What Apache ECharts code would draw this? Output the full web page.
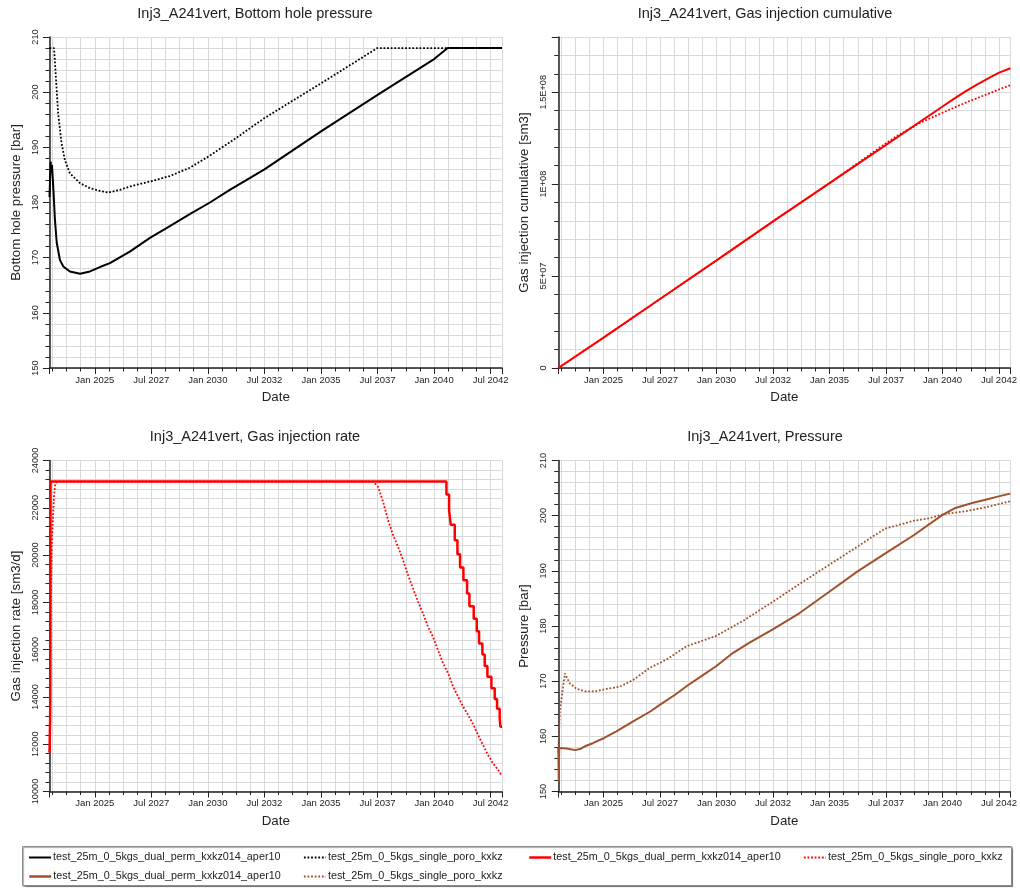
<!DOCTYPE html>
<html>
<head>
<meta charset="utf-8">
<title>Inj3_A241vert</title>
<script src="https://cdn.jsdelivr.net/npm/echarts@6/dist/echarts.min.js"></script>
<style>
    html, body { margin: 0; padding: 0; background: #fff; }
    #chart { width: 1020px; height: 888px; }
</style>
</head>
<body>
<div id="chart"></div>
<script>
// case names
var nameDual = 'test_25m_0_5kgs_dual_perm_kxkz014_aper10';
var nameSingle = 'test_25m_0_5kgs_single_poro_kxkz';

// x ticks (decimal years)
var xTickYears = [2025, 2027.5, 2030, 2032.5, 2035, 2037.5, 2040, 2042.5];
var xTickLabels = ['Jan 2025', 'Jul 2027', 'Jan 2030', 'Jul 2032', 'Jan 2035', 'Jul 2037', 'Jan 2040', 'Jul 2042'];

// Bottom hole pressure [bar]
var bhpDual = [[2023.0, 181.0], [2023.05, 187.4], [2023.08, 185.4], [2023.11, 186.8], [2023.17, 182.5],
    [2023.24, 176.9], [2023.32, 172.7], [2023.46, 169.6], [2023.61, 168.4], [2023.9, 167.5],
    [2024.35, 167.1], [2024.79, 167.5], [2025.23, 168.3], [2025.67, 169.0], [2026.55, 171.1],
    [2027.44, 173.6], [2028.32, 175.7], [2029.2, 177.9], [2030.09, 180.0], [2030.97, 182.3],
    [2032.5, 186.0], [2035.0, 192.9], [2037.5, 199.5], [2040.0, 206.0], [2040.6, 208.0], [2043.0, 208.0]];
var bhpSingle = [[2023.0, 208.0], [2023.2, 208.0], [2023.3, 201.6], [2023.38, 196.2], [2023.53, 190.8],
    [2023.68, 187.7], [2023.9, 185.3], [2024.35, 183.5], [2024.79, 182.6], [2025.23, 182.1],
    [2025.6, 181.8], [2026.11, 182.3], [2026.55, 182.9], [2027.44, 183.8], [2028.32, 184.8],
    [2029.2, 186.3], [2030.09, 188.5], [2030.97, 190.9], [2032.5, 195.3], [2035.0, 201.6],
    [2037.49, 208.0], [2043.0, 208.0]];

// Gas injection cumulative [sm3]
var cumDual = [[2023.0, 0], [2025, 1.65e7], [2027.5, 3.75e7], [2030, 5.85e7], [2032.5, 7.97e7],
    [2035, 1.005e8], [2037.5, 1.213e8], [2040, 1.422e8], [2040.55, 1.468e8], [2041, 1.503e8],
    [2041.5, 1.54e8], [2042, 1.574e8], [2042.5, 1.606e8], [2043, 1.63e8]];
var cumSingle = [[2023.0, 0], [2025, 1.65e7], [2027.5, 3.75e7], [2030, 5.85e7], [2032.5, 7.97e7],
    [2035, 1.005e8], [2037.3, 1.206e8], [2038, 1.263e8], [2039, 1.333e8], [2040, 1.388e8],
    [2041, 1.442e8], [2042, 1.49e8], [2042.5, 1.515e8], [2043, 1.538e8]];

// Gas injection rate [sm3/d]
var rateDual = [[2023.0, 11650], [2023.03, 13170], [2023.045, 23110], [2040.544, 22565], [2040.661, 21889],
    [2040.735, 21283], [2040.912, 20623], [2041.03, 20032], [2041.147, 19470], [2041.294, 18934],
    [2041.456, 18374], [2041.559, 17837], [2041.75, 17302], [2041.883, 16782], [2041.986, 16263],
    [2042.133, 15798], [2042.236, 15304], [2042.354, 14856], [2042.531, 14363], [2042.678, 13911],
    [2042.781, 13502], [2042.898, 13095], [2042.928, 12742], [2043.0, 12742]];
var rateSingle = [[2023.03, 13170], [2023.06, 18000], [2023.1, 20500], [2023.2, 22500], [2023.25, 23000],
    [2023.33, 23110], [2037.306, 23110], [2037.527, 22875], [2037.747, 22242], [2037.968, 21467],
    [2038.19, 20834], [2038.41, 20342], [2038.63, 19779], [2038.85, 19146], [2039.07, 18584],
    [2039.29, 18021], [2039.51, 17529], [2039.73, 16966], [2039.95, 16544], [2040.17, 15980],
    [2040.4, 15418], [2040.62, 14996], [2040.84, 14433], [2041.06, 14011], [2041.28, 13589],
    [2041.5, 13236], [2041.72, 12856], [2041.94, 12392], [2042.16, 11969], [2042.38, 11547],
    [2042.6, 11196], [2042.83, 10914], [2042.97, 10703]];

// Pressure [bar]
var presDual = [[2023.0, 157.9], [2023.02, 151.8], [2023.04, 157.9], [2023.37, 157.8], [2023.74, 157.5],
    [2023.96, 157.7], [2024.18, 158.2], [2024.55, 158.8], [2025.03, 159.7], [2025.57, 160.9],
    [2026.31, 162.7], [2027.07, 164.5], [2027.49, 165.7], [2028.15, 167.5], [2028.75, 169.3],
    [2029.4, 171.1], [2029.98, 172.7], [2030.72, 175.1], [2031.46, 177.0], [2032.49, 179.4],
    [2033.66, 182.3], [2034.99, 186.2], [2036.24, 189.9], [2037.49, 193.2], [2038.74, 196.5],
    [2039.98, 200.1], [2040.57, 201.4], [2041.31, 202.3], [2041.9, 202.9], [2042.48, 203.5], [2043.0, 204.0]];
var presSingle = [[2023.0, 157.0], [2023.07, 164.8], [2023.15, 167.0], [2023.29, 171.4], [2023.51, 169.6],
    [2023.81, 168.6], [2024.25, 168.1], [2024.69, 168.2], [2025.13, 168.6], [2025.72, 169.0],
    [2026.31, 170.2], [2027.04, 172.4], [2027.78, 173.9], [2028.66, 176.3], [2029.98, 178.2],
    [2031.24, 181.1], [2032.49, 184.4], [2033.74, 187.8], [2034.99, 191.1], [2036.24, 194.4],
    [2036.9, 196.2], [2037.49, 197.7], [2038.07, 198.3], [2038.74, 199.1], [2039.4, 199.5],
    [2039.98, 200.2], [2041.01, 200.8], [2041.9, 201.5], [2042.48, 202.1], [2043.0, 202.6]];

var font = "'Liberation Sans', Arial, sans-serif";
var ink = '#222';
var gridColor = '#d9d9d9';
var dotted = [1.8, 1.8];

var myChart = echarts.init(document.getElementById('chart'), null, { renderer: 'canvas' });

var grids = [
    { left: 49.5, top: 37, width: 452.5, height: 331 },
    { left: 558.3, top: 37, width: 453.4, height: 331 },
    { left: 49.5, top: 460.5, width: 452.5, height: 331 },
    { left: 558.3, top: 460.5, width: 453.4, height: 331 }
];

function xAxisOpt(i) {
    return {
        type: 'value', gridIndex: i, min: 2023, max: 2043,
        // ticks on multiples of 2.5 years, not counted from min
        minInterval: 2.5, maxInterval: 2.5,
        name: 'Date', nameLocation: 'middle', nameGap: 23,
        nameTextStyle: { fontSize: 13.3, color: ink, fontFamily: font },
        axisLine: { show: true, onZero: false, lineStyle: { color: ink, width: 1.5 } },
        axisTick: { show: true, length: 6, lineStyle: { color: ink } },
        minorTick: { show: true, splitNumber: 4, length: 3.5, lineStyle: { color: ink } },
        axisLabel: {
            fontSize: 9.5, color: ink, margin: 7, fontFamily: font,
            formatter: function (v) {
                for (var k = 0; k < xTickYears.length; k++) {
                    if (Math.abs(v - xTickYears[k]) < 1e-6) return xTickLabels[k];
                }
                return '';
            }
        },
        splitLine: { show: true, lineStyle: { color: gridColor, width: 1 } },
        minorSplitLine: { show: true, lineStyle: { color: gridColor, width: 1 } }
    };
}

function yAxisOpt(i, name, min, max, interval, formatter) {
    return {
        type: 'value', gridIndex: i, min: min, max: max, interval: interval,
        name: name, nameLocation: 'middle', nameGap: 27,
        nameTextStyle: { fontSize: 13.3, color: ink, fontFamily: font },
        axisLine: { show: true, onZero: false, lineStyle: { color: ink, width: 1.5 } },
        axisTick: { show: true, length: 6.5, lineStyle: { color: ink } },
        minorTick: { show: true, splitNumber: 5, length: 4, lineStyle: { color: ink } },
        axisLabel: { rotate: 90, fontSize: 9.2, color: ink, margin: 10, fontFamily: font, formatter: formatter },
        splitLine: { show: true, lineStyle: { color: gridColor, width: 1 } },
        minorSplitLine: { show: true, lineStyle: { color: gridColor, width: 1 } }
    };
}

function sciLabel(v) {
    if (v === 0) return '0';
    if (Math.abs(v / 5e7 - Math.round(v / 5e7)) > 1e-6) return '';
    var s = v.toExponential().toUpperCase().split('E');
    var e = s[1].replace('+', '');
    if (e.length < 2) e = '0' + e;
    return s[0] + 'E+' + e;
}

function plainLabel(v) { return String(v); }

function lineSeries(name, data, xi, color, width, type, step) {
    return {
        name: name, type: 'line', data: data,
        xAxisIndex: xi, yAxisIndex: xi,
        symbol: 'none', showSymbol: false, step: step || false,
        lineStyle: { color: color, width: width, type: type },
        itemStyle: { color: color },
        emphasis: { disabled: true }
    };
}

var titles = ['Inj3_A241vert, Bottom hole pressure', 'Inj3_A241vert, Gas injection cumulative',
    'Inj3_A241vert, Gas injection rate', 'Inj3_A241vert, Pressure'];
var titleLeft = [255, 765, 255, 765];
var titleTop = [6.5, 6.5, 429.5, 429.5];

// 图例
var legendDefs = [
    { name: nameDual, color: '#000000', width: 2, type: 'solid' },
    { name: nameSingle, color: '#000000', width: 1.8, type: dotted },
    { name: nameDual, color: '#ff0000', width: 2.5, type: 'solid' },
    { name: nameSingle, color: '#ff0000', width: 1.8, type: dotted },
    { name: nameDual, color: '#a0522d', width: 2.5, type: 'solid' },
    { name: nameSingle, color: '#a0522d', width: 1.8, type: dotted }
];
var legendLeft = [28, 303, 528, 803, 28, 303];
var legendTop = [852, 852, 852, 852, 871, 871];

var option = {
    animation: false,
    backgroundColor: '#ffffff',
    textStyle: { fontFamily: font },
    title: titles.map(function (t, i) {
        return {
            text: t, left: titleLeft[i], top: titleTop[i], textAlign: 'center', padding: 0,
            textStyle: { fontSize: 14.5, fontWeight: 'normal', color: ink, fontFamily: font }
        };
    }),
    graphic: [{
        type: 'rect', z: 0,
        shape: { x: 22.5, y: 846.5, width: 989, height: 39 },
        style: { fill: '#ffffff', stroke: '#8c8c8c', lineWidth: 1, shadowColor: 'rgba(0,0,0,0.35)', shadowOffsetX: 1, shadowOffsetY: 1, shadowBlur: 1 }
    }],
    legend: legendDefs.map(function (d, i) {
        return {
            left: legendLeft[i], top: legendTop[i], padding: 0, z: 5,
            itemWidth: 22, itemHeight: 10, selectedMode: false,
            textStyle: { fontSize: 10.8, color: ink, fontFamily: font, padding: [0, 0, 0, -3] },
            data: [{
                name: d.name,
                lineStyle: { color: d.color, width: d.width, type: d.type },
                itemStyle: { color: d.color, opacity: 0, borderWidth: 0 }
            }]
        };
    }),
    grid: grids,
    xAxis: [xAxisOpt(0), xAxisOpt(1), xAxisOpt(2), xAxisOpt(3)],
    yAxis: [
        yAxisOpt(0, 'Bottom hole pressure [bar]', 150, 210, 10, plainLabel),
        yAxisOpt(1, 'Gas injection cumulative [sm3]', 0, 1.8e8, 5e7, sciLabel),
        yAxisOpt(2, 'Gas injection rate [sm3/d]', 10000, 24000, 2000, plainLabel),
        yAxisOpt(3, 'Pressure [bar]', 150, 210, 10, plainLabel)
    ],
    series: [
        lineSeries(nameDual, bhpDual, 0, '#000000', 2, 'solid'),
        lineSeries(nameSingle, bhpSingle, 0, '#000000', 1.8, dotted),
        lineSeries(nameDual, cumDual, 1, '#ff0000', 2, 'solid'),
        lineSeries(nameSingle, cumSingle, 1, '#ff0000', 1.8, dotted),
        lineSeries(nameDual, rateDual, 2, '#ff0000', 2.5, 'solid', 'end'),
        lineSeries(nameSingle, rateSingle, 2, '#ff0000', 1.8, dotted),
        lineSeries(nameDual, presDual, 3, '#a0522d', 2, 'solid'),
        lineSeries(nameSingle, presSingle, 3, '#a0522d', 1.8, dotted)
    ]
};

myChart.setOption(option);
</script>
</body>
</html>
